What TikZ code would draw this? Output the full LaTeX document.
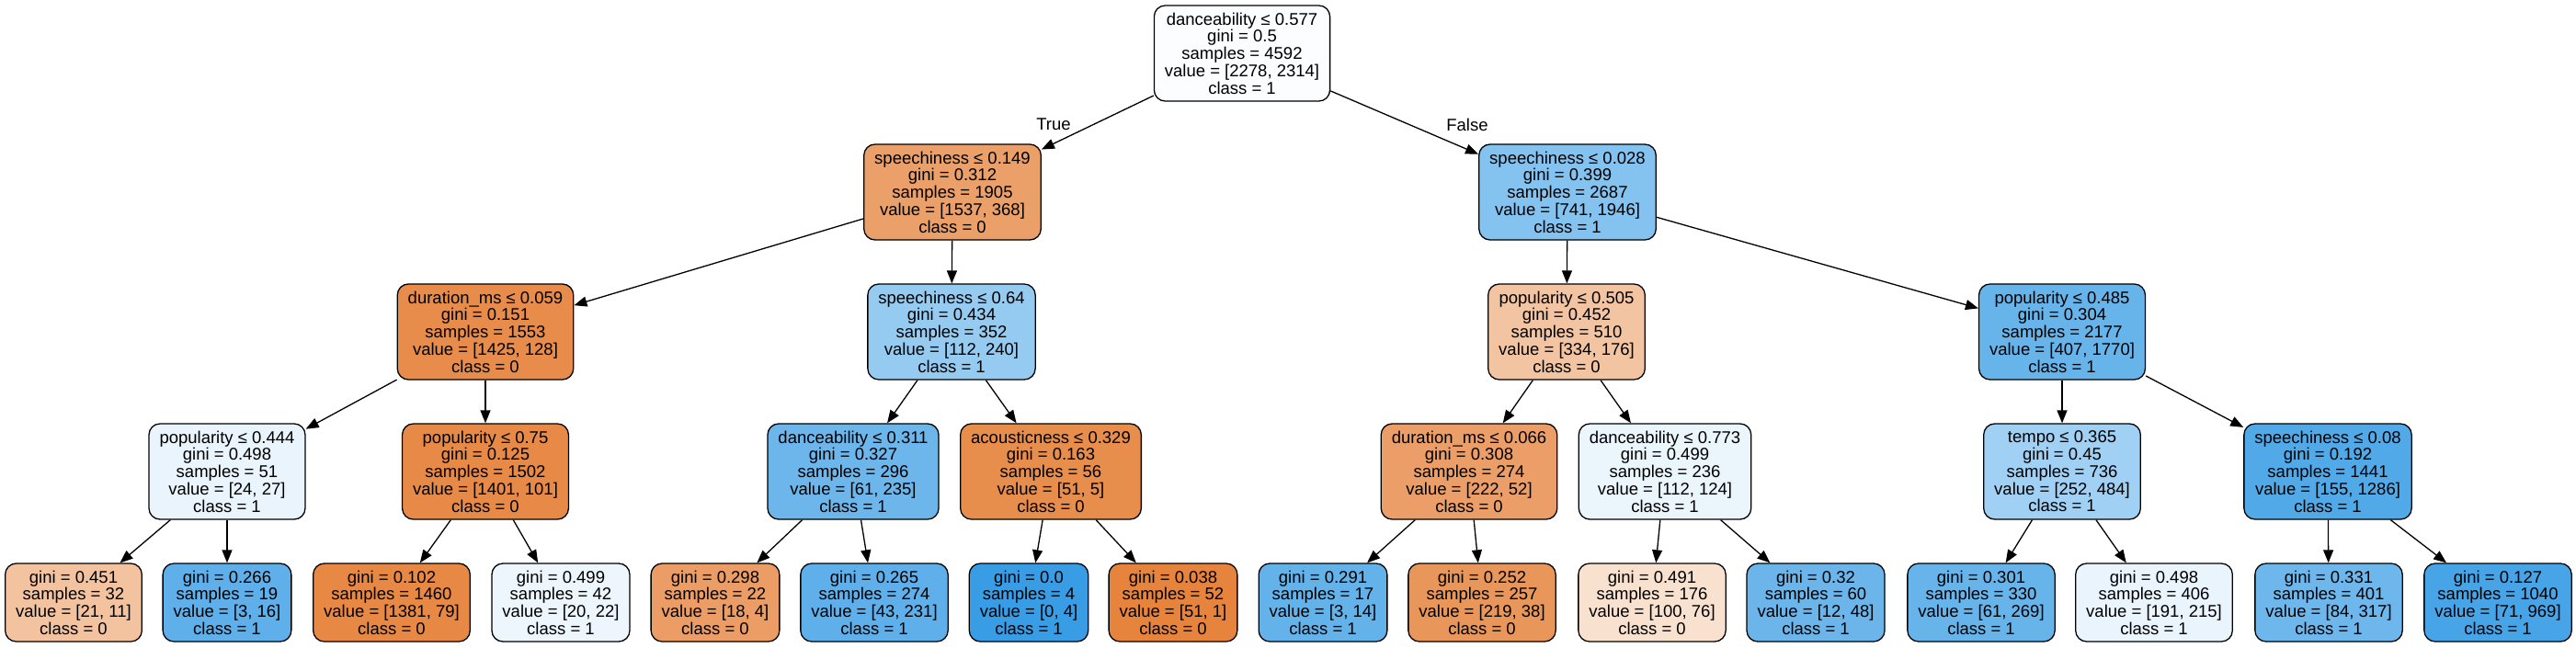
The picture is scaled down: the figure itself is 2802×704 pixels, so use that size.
\documentclass[tikz,border=0pt]{standalone}
\usepackage{fontspec}
\setmainfont{Liberation Sans}
\usepackage{xcolor}
\usetikzlibrary{arrows.meta}

\definecolor{cls0}{RGB}{229,129,57}
\definecolor{cls1}{RGB}{57,157,229}

\begin{document}
\begin{tikzpicture}[x=1pt, y=-1pt,
  box/.style={draw, rounded corners=12pt, align=center, line width=1.3pt,
    inner xsep=11.5pt, inner ysep=0pt, minimum height=104pt,
    font=\fontsize{18.5}{18.7}\selectfont},
  leaf/.style={box, minimum height=85pt},
  edge/.style={-{Triangle[length=14pt,width=11pt]}, line width=1.3pt},
  elabel/.style={font=\fontsize{18.5}{18.7}\selectfont}]
\def\ya{58}
\def\yb{209}
\def\yc{361}
\def\yd{513}
\def\ye{655.5}
\useasboundingbox (0,0) rectangle (2802,704);

% split nodes
\node[box, fill=cls1!2] (R) at (1351,\ya)
  {danceability ≤ 0.577\\gini = 0.5\\samples = 4592\\value = [2278, 2314]\\class = 1};
\node[box, fill=cls0!76] (RL) at (1036,\yb)
  {speechiness ≤ 0.149\\gini = 0.312\\samples = 1905\\value = [1537, 368]\\class = 0};
\node[box, fill=cls1!62] (RR) at (1705,\yb)
  {speechiness ≤ 0.028\\gini = 0.399\\samples = 2687\\value = [741, 1946]\\class = 1};
\node[box, fill=cls0!91] (RLL) at (528,\yc)
  {duration\_ms ≤ 0.059\\gini = 0.151\\samples = 1553\\value = [1425, 128]\\class = 0};
\node[box, fill=cls1!53] (RLR) at (1035,\yc)
  {speechiness ≤ 0.64\\gini = 0.434\\samples = 352\\value = [112, 240]\\class = 1};
\node[box, fill=cls0!47] (RRL) at (1704,\yc)
  {popularity ≤ 0.505\\gini = 0.452\\samples = 510\\value = [334, 176]\\class = 0};
\node[box, fill=cls1!77] (RRR) at (2243,\yc)
  {popularity ≤ 0.485\\gini = 0.304\\samples = 2177\\value = [407, 1770]\\class = 1};
\node[box, fill=cls1!11] (RLLL) at (247,\yd)
  {popularity ≤ 0.444\\gini = 0.498\\samples = 51\\value = [24, 27]\\class = 1};
\node[box, fill=cls0!93] (RLLR) at (528,\yd)
  {popularity ≤ 0.75\\gini = 0.125\\samples = 1502\\value = [1401, 101]\\class = 0};
\node[box, fill=cls1!74] (RLRL) at (928,\yd)
  {danceability ≤ 0.311\\gini = 0.327\\samples = 296\\value = [61, 235]\\class = 1};
\node[box, fill=cls0!90] (RLRR) at (1143,\yd)
  {acousticness ≤ 0.329\\gini = 0.163\\samples = 56\\value = [51, 5]\\class = 0};
\node[box, fill=cls0!77] (RRLL) at (1598,\yd)
  {duration\_ms ≤ 0.066\\gini = 0.308\\samples = 274\\value = [222, 52]\\class = 0};
\node[box, fill=cls1!10] (RRLR) at (1811,\yd)
  {danceability ≤ 0.773\\gini = 0.499\\samples = 236\\value = [112, 124]\\class = 1};
\node[box, fill=cls1!48] (RRRL) at (2243,\yd)
  {tempo ≤ 0.365\\gini = 0.45\\samples = 736\\value = [252, 484]\\class = 1};
\node[box, fill=cls1!88] (RRRR) at (2532,\yd)
  {speechiness ≤ 0.08\\gini = 0.192\\samples = 1441\\value = [155, 1286]\\class = 1};

% leaves
\node[leaf, fill=cls0!48] (RLLLL) at (80,\ye)
  {gini = 0.451\\samples = 32\\value = [21, 11]\\class = 0};
\node[leaf, fill=cls1!81] (RLLLR) at (247,\ye)
  {gini = 0.266\\samples = 19\\value = [3, 16]\\class = 1};
\node[leaf, fill=cls0!94] (RLLRL) at (426,\ye)
  {gini = 0.102\\samples = 1460\\value = [1381, 79]\\class = 0};
\node[leaf, fill=cls1!9] (RLLRR) at (610,\ye)
  {gini = 0.499\\samples = 42\\value = [20, 22]\\class = 1};
\node[leaf, fill=cls0!78] (RLRLL) at (778,\ye)
  {gini = 0.298\\samples = 22\\value = [18, 4]\\class = 0};
\node[leaf, fill=cls1!81] (RLRLR) at (951,\ye)
  {gini = 0.265\\samples = 274\\value = [43, 231]\\class = 1};
\node[leaf, fill=cls1] (RLRRL) at (1119,\ye)
  {gini = 0.0\\samples = 4\\value = [0, 4]\\class = 1};
\node[leaf, fill=cls0!98] (RLRRR) at (1276,\ye)
  {gini = 0.038\\samples = 52\\value = [51, 1]\\class = 0};
\node[leaf, fill=cls1!79] (RRLLL) at (1439,\ye)
  {gini = 0.291\\samples = 17\\value = [3, 14]\\class = 1};
\node[leaf, fill=cls0!83] (RRLLR) at (1612,\ye)
  {gini = 0.252\\samples = 257\\value = [219, 38]\\class = 0};
\node[leaf, fill=cls0!24] (RRLRL) at (1797,\ye)
  {gini = 0.491\\samples = 176\\value = [100, 76]\\class = 0};
\node[leaf, fill=cls1!75] (RRLRR) at (1975,\ye)
  {gini = 0.32\\samples = 60\\value = [12, 48]\\class = 1};
\node[leaf, fill=cls1!77] (RRRLL) at (2155,\ye)
  {gini = 0.301\\samples = 330\\value = [61, 269]\\class = 1};
\node[leaf, fill=cls1!11] (RRRLR) at (2343,\ye)
  {gini = 0.498\\samples = 406\\value = [191, 215]\\class = 1};
\node[leaf, fill=cls1!73] (RRRRL) at (2533,\ye)
  {gini = 0.331\\samples = 401\\value = [84, 317]\\class = 1};
\node[leaf, fill=cls1!93] (RRRRR) at (2717,\ye)
  {gini = 0.127\\samples = 1040\\value = [71, 969]\\class = 1};

% edges
\draw[edge] (R) -- (RL);
\draw[edge] (R) -- (RR);
\node[elabel] (T) at (1146,135) {True};
\node[elabel] (F) at (1596,136) {False};
\draw[edge] (RL) -- (RLL);
\draw[edge] (RL) -- (RLR);
\draw[edge] (RR) -- (RRL);
\draw[edge] (RR) -- (RRR);
\draw[edge] (RLL) -- (RLLL);
\draw[edge] (RLL) -- (RLLR);
\draw[edge] (RLR) -- (RLRL);
\draw[edge] (RLR) -- (RLRR);
\draw[edge] (RRL) -- (RRLL);
\draw[edge] (RRL) -- (RRLR);
\draw[edge] (RRR) -- (RRRL);
\draw[edge] (RRR) -- (RRRR);
\draw[edge] (RLLL) -- (RLLLL);
\draw[edge] (RLLL) -- (RLLLR);
\draw[edge] (RLLR) -- (RLLRL);
\draw[edge] (RLLR) -- (RLLRR);
\draw[edge] (RLRL) -- (RLRLL);
\draw[edge] (RLRL) -- (RLRLR);
\draw[edge] (RLRR) -- (RLRRL);
\draw[edge] (RLRR) -- (RLRRR);
\draw[edge] (RRLL) -- (RRLLL);
\draw[edge] (RRLL) -- (RRLLR);
\draw[edge] (RRLR) -- (RRLRL);
\draw[edge] (RRLR) -- (RRLRR);
\draw[edge] (RRRL) -- (RRRLL);
\draw[edge] (RRRL) -- (RRRLR);
\draw[edge] (RRRR) -- (RRRRL);
\draw[edge] (RRRR) -- (RRRRR);
\end{tikzpicture}
\end{document}
